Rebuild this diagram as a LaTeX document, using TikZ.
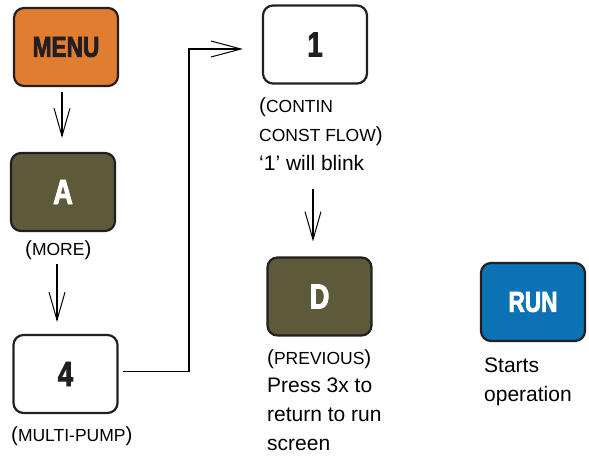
\documentclass[tikz,border=0pt]{standalone}
\usepackage{fontspec}
\setmainfont{Liberation Sans}
\newfontfamily\boxfont{Liberation Sans Bold}[FakeStretch=0.78, FakeBold=2.5]
\usetikzlibrary{arrows.meta,calc}
\definecolor{menuorange}{HTML}{E07D31}
\definecolor{keyolive}{HTML}{5C5A38}
\definecolor{runblue}{HTML}{0A72B5}
\definecolor{edgedark}{HTML}{231F20}
\newcommand\smc[1]{{\fontsize{17.5}{20}\selectfont #1}}
\newcommand\pa[1]{{\fontsize{20.5}{20}\selectfont #1}}
\tikzset{
  key/.style={draw=edgedark, line width=2.2pt, rounded corners=10pt,
    minimum width=104pt, minimum height=78pt, inner sep=0pt,
    font=\boxfont\fontsize{29}{30}\selectfont},
  bigkey/.style={key, font=\boxfont\fontsize{35}{36}\selectfont},
  txt/.style={anchor=base west, inner sep=0pt, font=\fontsize{21}{29}\selectfont, text=black},
  varrow/.style={line width=1.6pt, -{Straight Barb[length=28pt,width=16pt,line width=1pt]}},
  conn/.style={line width=1.8pt, -{Straight Barb[length=30pt,width=16pt,line width=1pt]}}
}
\begin{document}
\begin{tikzpicture}[x=1pt,y=-1pt]
\useasboundingbox (0,0) rectangle (589,456);
% keys
\node[key, fill=menuorange, text=edgedark] (menu) at (66,47) {MENU};
\node[bigkey, fill=keyolive, text=white] (a) at (63,192) {A};
\node[bigkey, fill=white, text=edgedark] (four) at (65.5,374) {4};
\node[bigkey, fill=white, text=edgedark] (one) at (315,44.5) {1};
\node[bigkey, fill=keyolive, text=white] (d) at (319.5,296.5) {D};
\node[key, fill=runblue, text=white] (run) at (533,302) {RUN};
% labels
\node[txt] (more) at (25,255) {\pa{(}\smc{MORE}\pa{)}};
\node[txt] (multi) at (11,441) {\pa{(}\smc{MULTI-PUMP}\pa{)}};
\node[txt] (contin) at (259,112) {\pa{(}\smc{CONTIN}};
\node[txt] (const) at (259,141) {\smc{CONST FLOW}\pa{)}};
\node[txt] (blink) at (259,170) {‘1’ will blink};
\node[txt] (prev) at (267,364) {\pa{(}\smc{PREVIOUS}\pa{)}};
\node[txt] (press) at (267,392) {Press 3x to};
\node[txt] (ret) at (267,421) {return to run};
\node[txt] (scr) at (267,450) {screen};
\node[txt] (starts) at (484,372) {Starts};
\node[txt] (oper) at (484,401) {operation};
% connectors
\draw[varrow, shorten <=5pt, shorten >=14pt] (menu.south -| 62,0) -- (a.north -| 62,0);
\draw[varrow, shorten <=5pt, shorten >=12pt] (more.south -| 57,0) -- (four.north -| 57,0);
\draw[varrow, shorten <=19pt, shorten >=15pt] (blink.south -| 313,0) -- (d.north -| 313,0);
\coordinate (bend) at (189,0);
\draw[conn, shorten <=4pt, shorten >=19pt] ($(four.east)+(0,-2.5)$) -| (bend |- 0,49) -- ($(one.west)+(0,4.5)$);
\end{tikzpicture}
\end{document}
